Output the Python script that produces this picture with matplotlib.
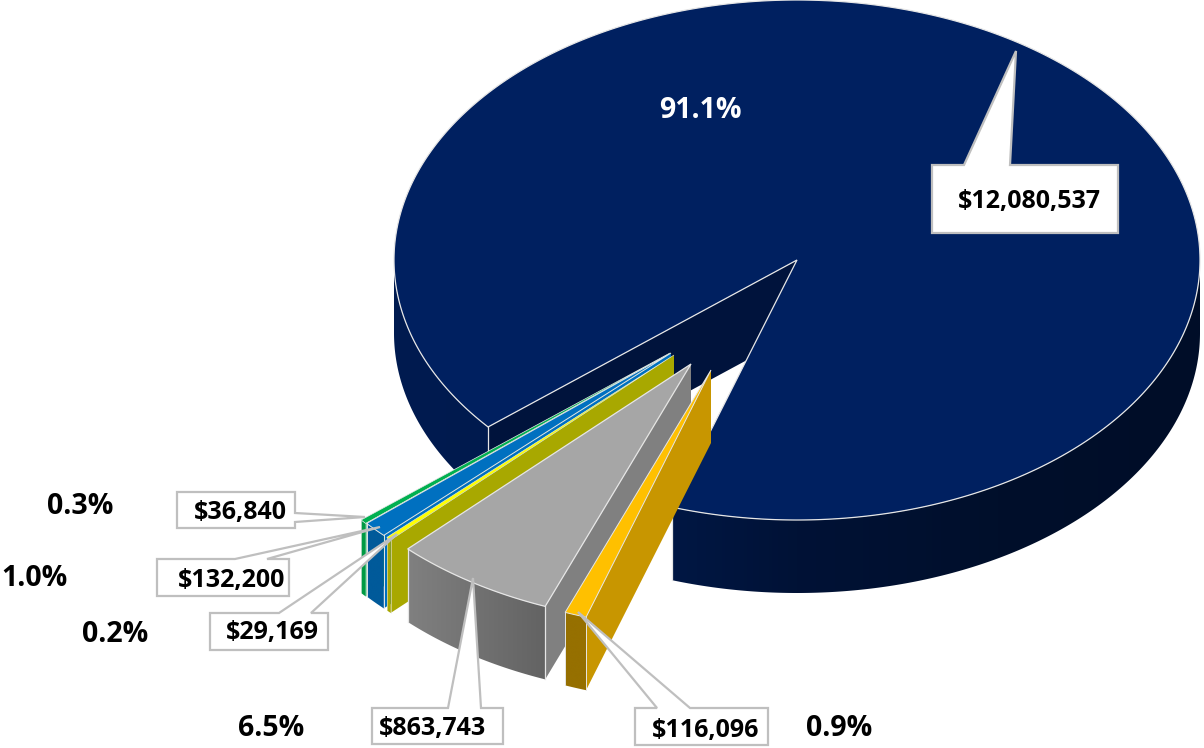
import numpy as np
import matplotlib
matplotlib.use("Agg")
import matplotlib.pyplot as plt
from matplotlib.colors import LinearSegmentedColormap
from matplotlib.patches import Polygon

# data, main slice first, then the exploded slices from back to front
names = ["Main", "Green", "Blue", "Yellow", "Grey", "Gold"]
values = [12080537, 36840, 132200, 29169, 863743, 116096]
value_labels = ["$12,080,537", "$36,840", "$132,200", "$29,169", "$863,743", "$116,096"]
percent_labels = ["91.1%", "0.3%", "1.0%", "0.2%", "6.5%", "0.9%"]

# styles
top_colors = ["#002060", "#00b050", "#0070c0", "#ffff00", "#a6a6a6", "#ffc000"]
side_colors = ["#00133c", "#00b050", "#0070c0", "#a8a800", "#808080", "#c89600"]
arc_colors = [["#001b50", "#001a4c", "#001236", "#000f2b", "#000d28"],
              ["#009a44", "#009a44"], ["#005a9a", "#005a9a"], ["#a8a800", "#a8a800"],
              ["#808080", "#636363"], ["#967000", "#967000"]]
edge_widths = [0.9, 0.5, 0.7, 0.4, 0.9, 0.7]

# layout, in pixels
cx, cy, rx, ry, depth = 797, 260, 403, 260, 73
gold_start = 18.06  # degrees clockwise from straight down
shifts = [(0, 0), (-127, 93), (-126, 93), (-123, 95), (-106, 104), (-86, 110)]

percent_pos = [(700, 110), (80, 507), (34, 578), (115, 634), (271, 729), (839, 729)]
value_pos = [(1029, 201), (240, 513), (232, 580), (272, 633), (433, 729), (706, 730)]
boxes = [(932, 165, 1118, 233), (177, 492, 295, 528), (157, 559, 289, 596),
         (210, 613, 328, 650), (372, 708, 503, 744), (635, 708, 768, 745)]
tail_sides = ["top", "right", "top", "top", "top", "top"]
tail_bases = [(964, 1010), (513, 522), (235, 267), (279, 311), (448, 481), (657, 690)]
tail_tips = [(1016, 51), (365, 517), (380, 527), (397, 534), (473, 578), (578, 612)]

plt.rcParams["font.family"] = ["Open Sans", "DejaVu Sans"]
fig = plt.figure(figsize=(12.04, 7.48), dpi=100)
ax = fig.add_axes([0, 0, 1, 1])

# slice angles from the values
total = sum(values)
sweep = [v / total * 360 for v in values]
starts = [0] * len(values)
a = gold_start
for i in [5, 4, 3, 2, 1, 0]:
    starts[i] = a
    a += sweep[i]


def rim(theta, sx, sy):
    t = np.radians(theta)
    return cx + sx - rx * np.sin(t), cy + sy + ry * np.cos(t)


def draw_arc_wall(t0, t1, sx, sy, cmap, xspan, z):
    # gradient runs left to right, clipped to the curved wall
    th = np.linspace(t0, t1, max(int(abs(t1 - t0)) * 2, 4))
    px, py = rim(th, sx, sy)
    pts = list(zip(px, py)) + list(zip(px[::-1], py[::-1] + depth))
    clip = Polygon(pts, closed=True, transform=ax.transData, facecolor="none", edgecolor="none")
    ax.add_patch(clip)
    grad = np.linspace(0, 1, 256).reshape(1, -1)
    im = ax.imshow(grad, cmap=cmap, aspect="auto", zorder=z, interpolation="bilinear",
                   extent=(xspan[0], xspan[1], py.max() + depth + 2, py.min() - 2))
    im.set_clip_path(clip)


for z, i in enumerate(range(len(values))):
    sx, sy = shifts[i]
    t0 = starts[i]
    t1 = t0 + sweep[i]
    base = z * 10 + 1
    cmap = LinearSegmentedColormap.from_list("w" + names[i], arc_colors[i])
    apex = (cx + sx, cy + sy)
    x0, y0 = rim(t0, sx, sy)
    x1, y1 = rim(t1, sx, sy)

    # flat wall along the cut edge
    ax.add_patch(Polygon([apex, (x0, y0), (x0, y0 + depth), (apex[0], apex[1] + depth)],
                         closed=True, facecolor=side_colors[i], edgecolor="none", zorder=base))
    # curved wall
    if i == 0:
        draw_arc_wall(t0, 90, sx, sy, cmap, (cx - rx, cx + rx), base + 1)
        draw_arc_wall(270, t1, sx, sy, cmap, (cx - rx, cx + rx), base + 1)
    else:
        draw_arc_wall(t1, t0, sx, sy, cmap, (min(x0, x1), max(x0, x1)), base + 1)

    # top face
    th = np.linspace(t0, t1, max(int(sweep[i] * 2), 4))
    px, py = rim(th, sx, sy)
    pts = [apex] + list(zip(px, py))
    ax.add_patch(Polygon(pts, closed=True, facecolor=top_colors[i], edgecolor="#e6e6e6",
                         linewidth=edge_widths[i], zorder=base + 2))
    ax.plot([x0, x0], [y0, y0 + depth], color="#e6e6e6", lw=edge_widths[i], zorder=base + 2)
    ax.plot([x1, x1], [y1, y1 + depth], color="#e6e6e6", lw=edge_widths[i], zorder=base + 2)

# callouts
for i in range(len(values)):
    bx0, by0, bx1, by1 = boxes[i]
    b0, b1 = tail_bases[i]
    if tail_sides[i] == "top":
        shape = [(bx0, by0), (b0, by0), tail_tips[i], (b1, by0), (bx1, by0), (bx1, by1), (bx0, by1)]
    else:
        shape = [(bx0, by0), (bx1, by0), (bx1, b0), tail_tips[i], (bx1, b1), (bx1, by1), (bx0, by1)]
    ax.add_patch(Polygon(shape, closed=True, facecolor="white", edgecolor="#bfbfbf",
                         linewidth=1.6, joinstyle="miter", zorder=100))
    ax.text(value_pos[i][0], value_pos[i][1], value_labels[i], fontsize=18, fontweight="bold",
            ha="center", va="center", color="black", zorder=101)
    ax.text(percent_pos[i][0], percent_pos[i][1], percent_labels[i], fontsize=20.5, fontweight="bold",
            ha="center", va="center", color="white" if i == 0 else "black", zorder=101)

ax.set_xlim(0, 1204)
ax.set_ylim(748, 0)
ax.axis("off")

fig.savefig("out.png", dpi=100, facecolor="white")
